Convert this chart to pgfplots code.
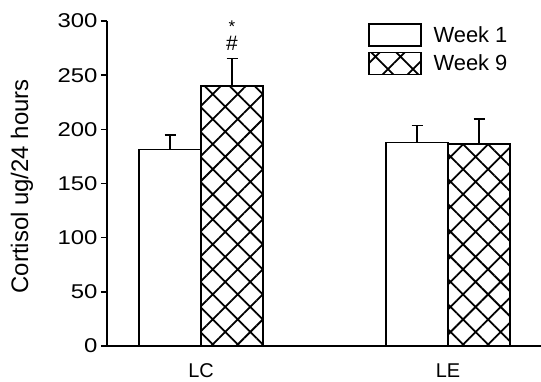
\documentclass[border=0pt]{standalone}
\usepackage{fontspec}
\setmainfont{Liberation Sans}
\newfontfamily\tickfont{Liberation Sans}[FakeStretch=1.2]
\usepackage{pgfplots}
\pgfplotsset{compat=1.18}
\usetikzlibrary{patterns.meta}
\pgfplotsset{boxlegend/.style={legend image code/.code={\draw[##1] (0bp,-11bp) rectangle (52bp,11bp);}}}
\begin{document}
\begin{tikzpicture}
\path[use as bounding box] (-107bp,-36bp) rectangle (434bp,346bp);
\begin{axis}[
 at={(0,0)}, anchor=south west,
 scale only axis, width=434bp, height=325bp,
 ymin=0, ymax=300, ytick={0,50,...,300},
 xmin=-0.3806, xmax=1.3765,
 xtick={0,1}, xticklabels={LC,LE},
 axis x line=bottom, axis y line=left,
 axis line style={line width=1.5bp, -},
 ybar=0pt, bar width=62bp,
 major tick length=6bp,
 y tick style={line width=1.5bp, black},
 x tick style={draw=none},
 tick align=outside,
 /pgf/number format/assume math mode=true,
 yticklabel style={font=\tickfont\fontsize{20}{20}\selectfont},
 xticklabel style={font=\fontsize{20}{20}\selectfont, yshift=-8bp},
 ylabel={Cortisol ug/24 hours},
 ylabel style={font=\fontsize{24}{24}\selectfont, at={(axis description cs:-0.196,0.491)}, anchor=center},
 legend style={draw=none, fill=none, at={(axis description cs:0.601,0.994)}, anchor=north west,
   font=\fontsize{22}{22}\selectfont, row sep=5bp, column sep=10bp, inner sep=0pt},
 legend cell align=left,
]
\addplot[fill=white, draw=black, line width=1.5bp, boxlegend,
 error bars/.cd, y dir=plus, y explicit,
 error bar style={line width=1.5bp, black},
 error mark options={rotate=90, mark size=5.5bp, line width=1.5bp, black}]
 coordinates {(0,181.6) +- (0,13.2) (1,187.7) +- (0,16.0)};
\addlegendentry{Week 1}
\addplot[pattern={Hatch[angle=45, distance=17.7bp, line width=1.8bp]}, pattern color=black, draw=black, line width=1.5bp, boxlegend,
 error bars/.cd, y dir=plus, y explicit,
 error bar style={line width=1.5bp, black},
 error mark options={rotate=90, mark size=5.5bp, line width=1.5bp, black}]
 coordinates {(0,240.0) +- (0,25.2) (1,186.5) +- (0,23.0)};
\addlegendentry{Week 9}
\node[font=\fontsize{21}{21}\selectfont, xshift=31bp] at (axis cs:0,279) {\#};
\node[font=\fontsize{17}{17}\selectfont, xshift=31bp, inner sep=0pt] at (axis cs:0,295) {*};
\end{axis}
\end{tikzpicture}
\end{document}
